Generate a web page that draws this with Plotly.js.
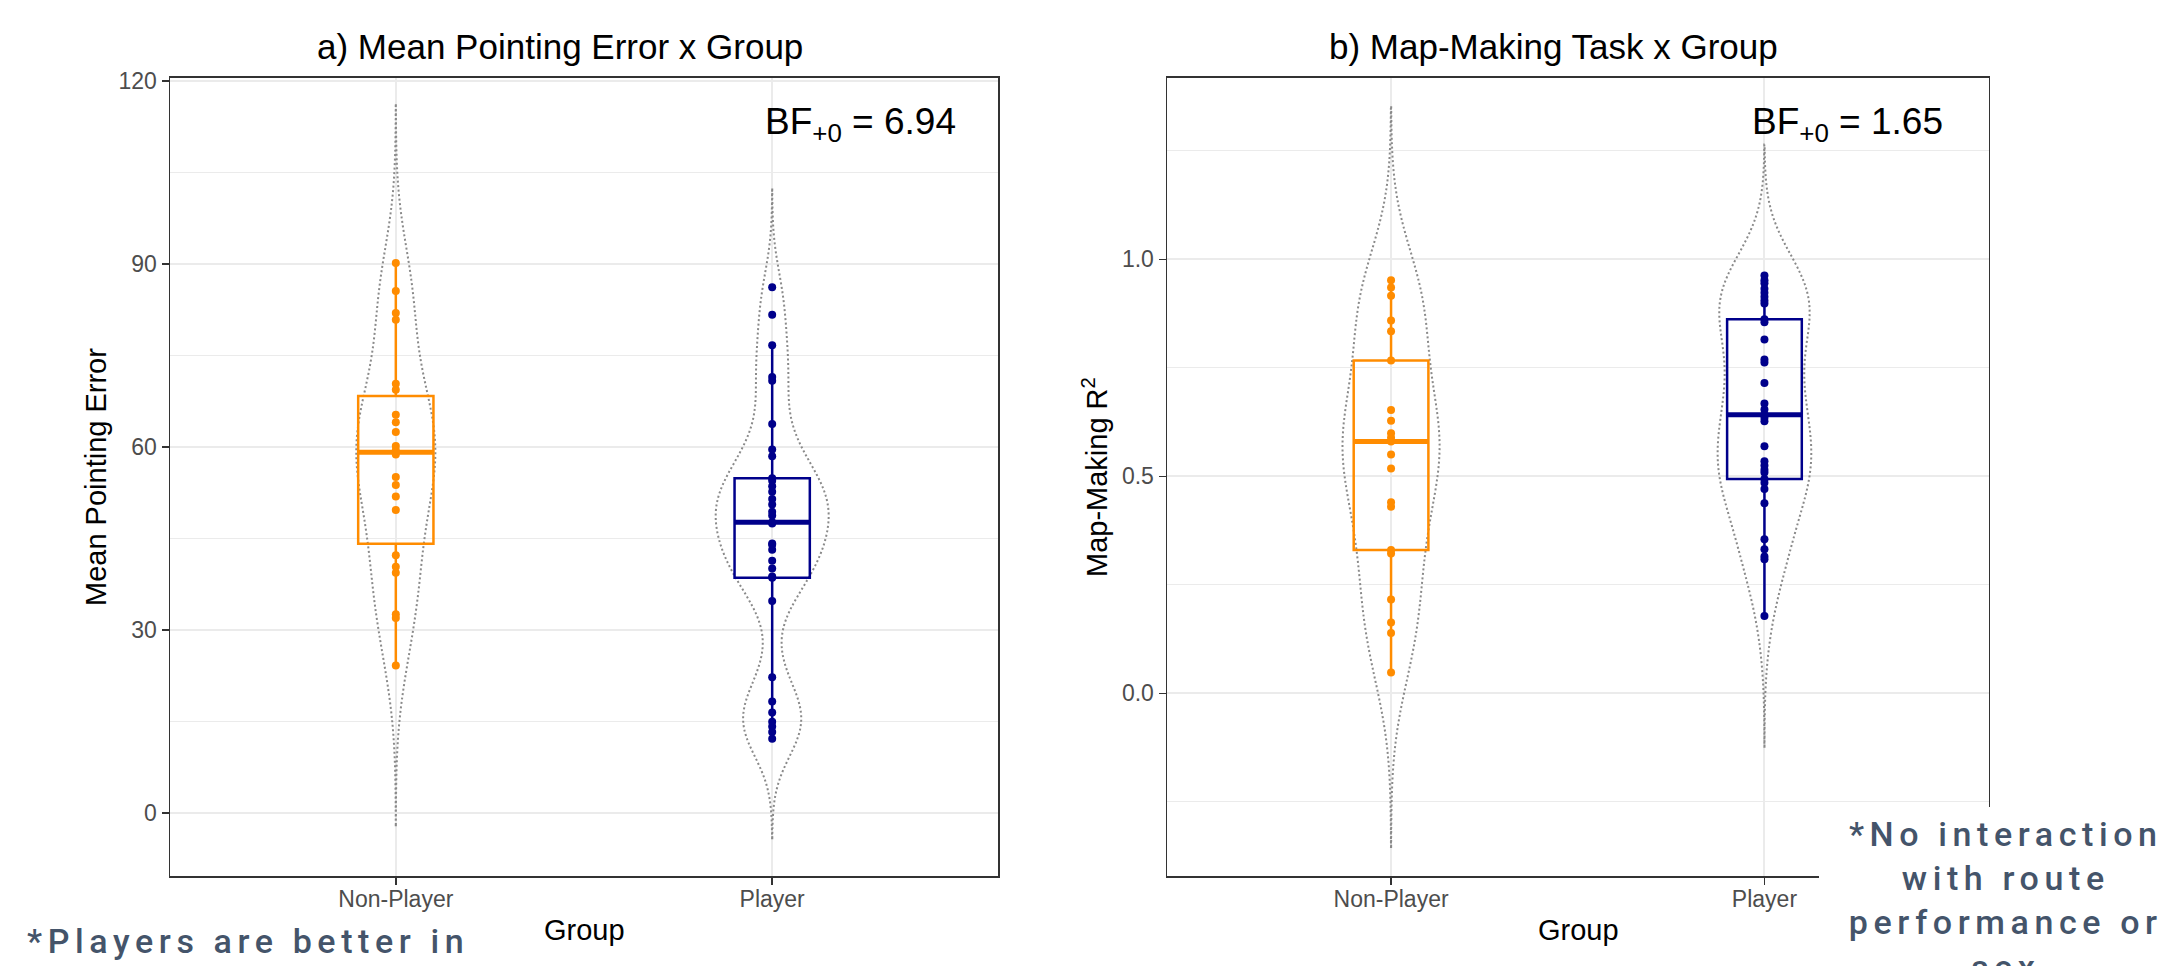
<!DOCTYPE html>
<html>
<head>
<meta charset="utf-8">
<script src="https://cdn.plot.ly/plotly-3.0.1.min.js"></script>
<style>
html,body{margin:0;padding:0;background:#ffffff;}
#chart{width:2158px;height:966px;}
g.annotation[data-index="8"] text, g.annotation[data-index="9"] text{letter-spacing:5.6px;}
g.violinlayer path, g.trace.violins path{stroke-dasharray:2px 2.5px !important;}
</style>
</head>
<body>
<div id="chart"></div>
<script>
// ---------- data ----------
const groups = ['Non-Player', 'Player'];

const pointingNonPlayer = [90.2, 85.6, 82.0, 80.9, 70.4, 69.4, 65.3, 64.1, 62.5, 60.2, 59.5,
  58.8, 55.1, 53.8, 51.9, 49.7, 42.3, 40.4, 39.4, 32.6, 32.0, 24.2];
const pointingPlayer = [86.2, 81.7, 76.7, 71.5, 70.9, 63.8, 59.6, 58.5, 54.9, 54.5, 53.6,
  52.7, 51.5, 50.6, 49.4, 48.8, 47.7, 47.5, 44.2, 44.0, 43.2, 41.4, 40.1, 38.8, 38.6, 34.8,
  22.3, 18.3, 16.5, 15.0, 14.2, 13.3, 12.2];

const mapNonPlayer = [0.952, 0.935, 0.916, 0.859, 0.834, 0.767, 0.653, 0.628, 0.599, 0.589,
  0.580, 0.550, 0.518, 0.440, 0.430, 0.330, 0.322, 0.216, 0.163, 0.139, 0.048];
const mapPlayer = [0.963, 0.952, 0.945, 0.932, 0.923, 0.914, 0.905, 0.898, 0.862, 0.855,
  0.815, 0.769, 0.762, 0.715, 0.668, 0.654, 0.642, 0.635, 0.627, 0.569, 0.535, 0.525, 0.515,
  0.509, 0.494, 0.485, 0.471, 0.438, 0.355, 0.332, 0.315, 0.309, 0.178];

const panelTitles = ['a) Mean Pointing Error x Group', 'b) Map-Making Task x Group'];
const yTitles = ['Mean Pointing Error', 'Map-Making R<sup>2</sup>'];
const xTitle = 'Group';
const bfLabels = ['BF<sub>+0</sub> = 6.94', 'BF<sub>+0</sub> = 1.65'];
const noteLeft = '*Players are better in';
const noteRight = '*No interaction<br>with route<br>performance or<br>sex';

// ---------- styles ----------
const groupColors = ['#FF8C00', '#00008B'];
const violinWidths = [[0.21, 0.30], [0.26, 0.25]];
const W = 2158, H = 966;
const px = v => v / W;
const py = v => 1 - v / H;

// ---------- helpers ----------
function q7(sorted, p) {
  const h = (sorted.length - 1) * p;
  const lo = Math.floor(h), hi = Math.ceil(h);
  return sorted[lo] + (h - lo) * (sorted[hi] - sorted[lo]);
}
function boxStats(data) {
  const s = data.slice().sort((a, b) => a - b);
  const q1 = q7(s, 0.25), med = q7(s, 0.5), q3 = q7(s, 0.75);
  const iqr = q3 - q1;
  const inside = s.filter(v => v >= q1 - 1.5 * iqr && v <= q3 + 1.5 * iqr);
  return {q1, med, q3, lf: inside[0], uf: inside[inside.length - 1], min: s[0], max: s[s.length - 1], iqr};
}
function nrd0(data) {
  const n = data.length;
  const mean = data.reduce((a, b) => a + b, 0) / n;
  const sd = Math.sqrt(data.reduce((a, b) => a + (b - mean) * (b - mean), 0) / (n - 1));
  const st = boxStats(data);
  const lo = Math.min(sd, st.iqr / 1.34);
  return 0.9 * lo * Math.pow(n, -0.2);
}

const panels = [
  {series: [pointingNonPlayer, pointingPlayer], xa: 'x', ya: 'y'},
  {series: [mapNonPlayer, mapPlayer], xa: 'x2', ya: 'y2'}
];

const traces = [];
panels.forEach((panel, p) => {
  panel.series.forEach((data, g) => {
    const pos = g + 1;
    const st = boxStats(data);
    const bw = nrd0(data);
    const col = groupColors[g];
    traces.push({
      type: 'violin', x: data.map(() => pos), y: data, xaxis: panel.xa, yaxis: panel.ya,
      bandwidth: bw, spanmode: 'manual', span: [st.min - 3 * bw, st.max + 3 * bw],
      width: violinWidths[p][g], scalemode: 'width', side: 'both', points: false,
      box: {visible: false}, meanline: {visible: false},
      line: {color: '#8A8A8A', width: 2}, fillcolor: 'rgba(0,0,0,0)',
      hoverinfo: 'skip', showlegend: false
    });
    traces.push({
      type: 'box', x: [pos], q1: [st.q1], median: [st.med], q3: [st.q3],
      lowerfence: [st.lf], upperfence: [st.uf], xaxis: panel.xa, yaxis: panel.ya,
      width: 0.2, whiskerwidth: 0, boxpoints: false,
      line: {color: col, width: 2.5}, fillcolor: 'rgba(0,0,0,0)',
      hoverinfo: 'skip', showlegend: false
    });
    traces.push({
      type: 'scatter', mode: 'lines', x: [pos - 0.1, pos + 0.1], y: [st.med, st.med],
      xaxis: panel.xa, yaxis: panel.ya, line: {color: col, width: 5},
      hoverinfo: 'skip', showlegend: false
    });
    traces.push({
      type: 'scatter', mode: 'markers', x: data.map(() => pos), y: data,
      xaxis: panel.xa, yaxis: panel.ya, marker: {size: 8, color: col},
      hoverinfo: 'skip', showlegend: false
    });
  });
});

const frame = {
  showline: true, mirror: true, linecolor: '#333333', linewidth: 1.5,
  ticks: 'outside', ticklen: 7, tickwidth: 1.5, tickcolor: '#333333',
  tickfont: {size: 23, color: '#4D4D4D'}, zeroline: false,
  showgrid: true, gridcolor: '#EBEBEB', gridwidth: 2, fixedrange: true
};
function xAxis(domain, anchor) {
  return Object.assign({}, frame, {domain, anchor, type: 'linear', range: [0.4, 2.6],
    tickmode: 'array', tickvals: [1, 2], ticktext: groups, ticklabelstandoff: -5});
}
function yAxis(domain, anchor, range, dtick, minorDtick, fmt) {
  return Object.assign({}, frame, {domain, anchor, range, tick0: 0, dtick, tickformat: fmt,
    minor: {tick0: 0, dtick: minorDtick, showgrid: true, gridcolor: '#EBEBEB', gridwidth: 1}});
}

const titleFont = {size: 35, color: '#000000'};
const axisTitleFont = {size: 29, color: '#000000'};
const bfFont = {size: 37, color: '#000000'};
const noteFont = {family: 'Roboto, sans-serif', size: 34, weight: 500, color: '#44546A'};

const annotations = [
  {text: panelTitles[0], x: px(560), y: py(46), xanchor: 'center', yanchor: 'middle', font: titleFont},
  {text: panelTitles[1], x: px(1553), y: py(46), xanchor: 'center', yanchor: 'middle', font: titleFont},
  {text: bfLabels[0], x: px(958), y: py(124), xanchor: 'right', yanchor: 'middle', font: bfFont},
  {text: bfLabels[1], x: px(1945), y: py(124), xanchor: 'right', yanchor: 'middle', font: bfFont},
  {text: xTitle, x: px(584), y: py(930), xanchor: 'center', yanchor: 'middle', font: axisTitleFont},
  {text: xTitle, x: px(1578), y: py(930), xanchor: 'center', yanchor: 'middle', font: axisTitleFont},
  {text: yTitles[0], x: px(96), y: py(477), xanchor: 'center', yanchor: 'middle', textangle: -90, font: axisTitleFont},
  {text: yTitles[1], x: px(1095), y: py(477), xanchor: 'center', yanchor: 'middle', textangle: -90, font: axisTitleFont},
  {text: noteLeft, x: px(25), y: py(919), xanchor: 'left', yanchor: 'top', align: 'left', font: noteFont},
  {text: noteRight, x: px(2006), y: py(812), xanchor: 'center', yanchor: 'top', align: 'center', font: noteFont}
].map(a => Object.assign({xref: 'paper', yref: 'paper', showarrow: false}, a));

const layout = {
  width: W, height: H,
  margin: {l: 0, r: 0, t: 0, b: 0, pad: 0},
  paper_bgcolor: '#ffffff', plot_bgcolor: '#ffffff',
  font: {family: '"Liberation Sans", Arial, sans-serif', color: '#000000'},
  showlegend: false, violinmode: 'overlay', boxmode: 'overlay',
  xaxis: xAxis([px(170), px(998)], 'y'),
  yaxis: yAxis([py(876), py(77.5)], 'x', [-10.3, 120.6], 30, 15, 'd'),
  xaxis2: xAxis([px(1167), px(1988.5)], 'y2'),
  yaxis2: yAxis([py(876), py(77.5)], 'x2', [-0.421, 1.419], 0.5, 0.25, '.1f'),
  shapes: [{type: 'rect', xref: 'paper', yref: 'paper', x0: px(1819), x1: 1, y0: 0, y1: py(807),
    fillcolor: '#ffffff', line: {width: 0}, layer: 'above'}],
  annotations
};

Plotly.newPlot('chart', traces, layout, {staticPlot: true, displayModeBar: false});
</script>
</body>
</html>
